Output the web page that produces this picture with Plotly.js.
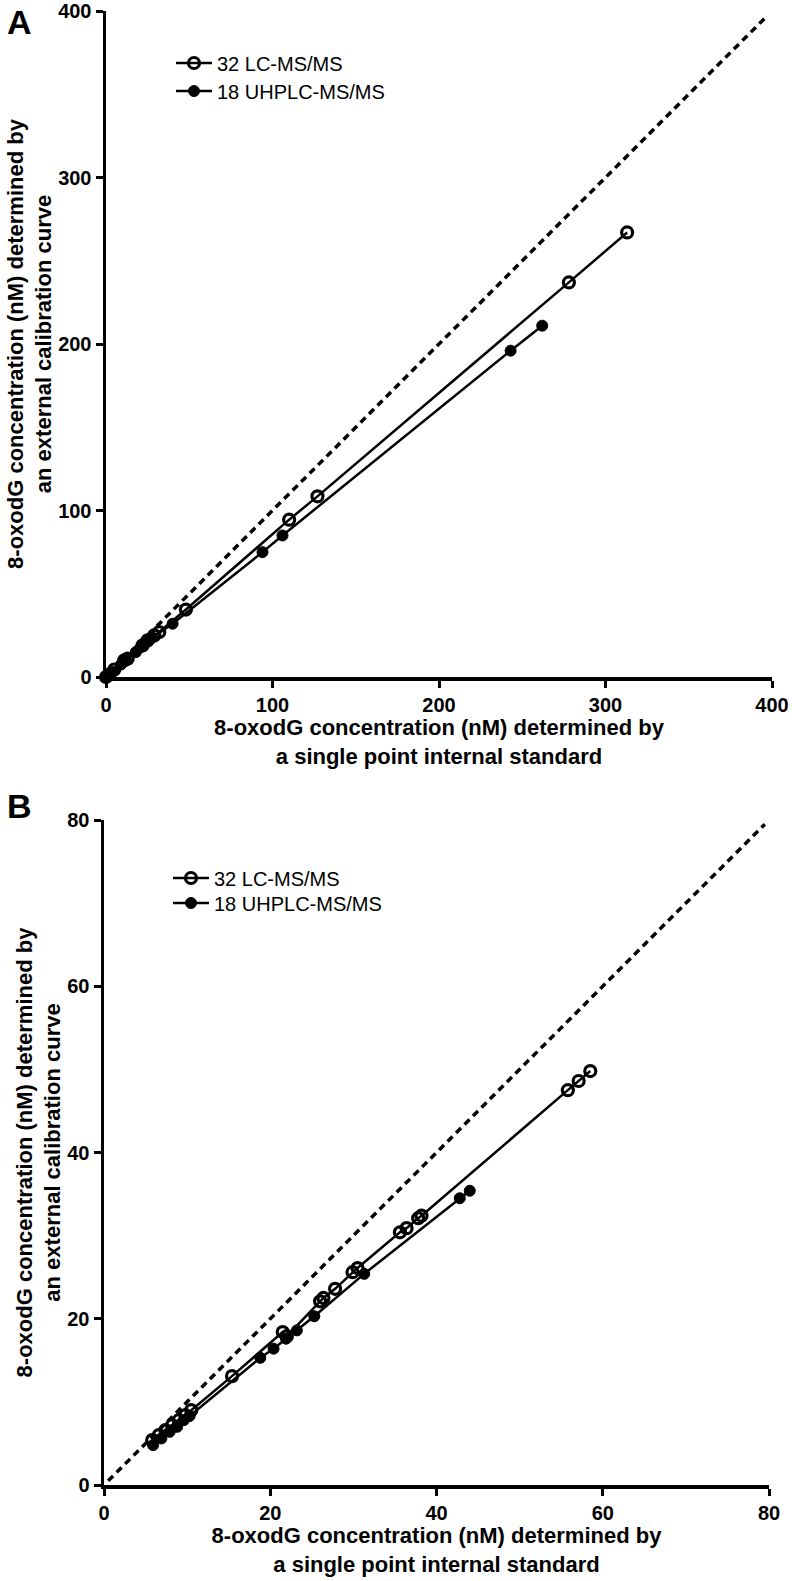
<!DOCTYPE html>
<html>
<head>
<meta charset="utf-8">
<script src="https://cdn.plot.ly/plotly-3.0.1.min.js"></script>
<style>html,body{margin:0;padding:0;background:#fff}</style>
</head>
<body>
<div id="chart" style="width:792px;height:1581px"></div>
<script>
// ---------- Data ----------
var seriesNames = ["32 LC-MS/MS", "18 UHPLC-MS/MS"];
var xTitle = "8-oxodG concentration (nM) determined by<br>a single point internal standard";
var yTitle = "8-oxodG concentration (nM) determined by<br>an external calibration curve";

// Panel A
var lcAx = [0, 2, 5, 11, 13, 22, 25, 29, 32, 48, 110, 127, 278, 313];
var lcAy = [0, 1.5, 4.5, 10, 11, 19, 22, 25, 27, 40.5, 94.5, 108.5, 237, 267];
var uhAx = [0, 1, 4, 9, 12, 18, 21, 24, 27, 40, 94, 106, 243, 262];
var uhAy = [0, 0.5, 3, 7.5, 10, 15, 18, 21, 23, 32, 75, 85, 196, 211];
var identA = [0, 397];
var ticksA = [0, 100, 200, 300, 400];

// Panel B
var lcBx = [5.8, 6.6, 7.4, 8.2, 9.0, 9.8, 10.5, 15.4, 21.5, 22.0, 26.0, 26.4, 27.8, 29.9, 30.5, 35.6, 36.4, 37.8, 38.2, 55.8, 57.1, 58.5];
var lcBy = [5.4, 6.0, 6.6, 7.2, 7.8, 8.4, 9.0, 13.1, 18.4, 17.9, 22.1, 22.5, 23.6, 25.6, 26.1, 30.4, 30.9, 32.1, 32.4, 47.5, 48.6, 49.8];
var uhBx = [5.9, 6.9, 7.9, 8.8, 9.6, 10.3, 18.8, 20.4, 21.9, 23.2, 25.3, 31.3, 42.8, 44.0];
var uhBy = [4.8, 5.6, 6.4, 7.0, 7.8, 8.3, 15.3, 16.4, 17.6, 18.6, 20.3, 25.4, 34.5, 35.4];
var identB = [0.5, 79.5];
var ticksB = [0, 20, 40, 60, 80];

// ---------- Build ----------
var W = 792, H = 1581;
var boldFont = "Liberation Sans, Arial, sans-serif";
var legFont = {family: "Liberation Sans, Arial, sans-serif", size: 20, color: "#000"};

function openTrace(x, y, xa, ya, leg) {
  return {x: x, y: y, xaxis: xa, yaxis: ya, type: "scatter", mode: "lines+markers",
    name: seriesNames[0], legend: leg, showlegend: true, cliponaxis: false,
    line: {color: "#000", width: 2.5},
    marker: {symbol: "circle-open", size: 11, color: "#000", line: {width: 3.2, color: "#000"}}};
}
function filledTrace(x, y, xa, ya, leg) {
  return {x: x, y: y, xaxis: xa, yaxis: ya, type: "scatter", mode: "lines+markers",
    name: seriesNames[1], legend: leg, showlegend: true, cliponaxis: false,
    line: {color: "#000", width: 2.5},
    marker: {symbol: "circle", size: 11, color: "#000", line: {width: 1, color: "#000"}}};
}
function identTrace(v, xa, ya) {
  return {x: v, y: v, xaxis: xa, yaxis: ya, type: "scatter", mode: "lines", showlegend: false,
    cliponaxis: false, line: {color: "#000", width: 3.5, dash: "7px,5px"}, hoverinfo: "skip"};
}

var data = [
  identTrace(identA, "x", "y"),
  openTrace(lcAx, lcAy, "x", "y", "legend"),
  filledTrace(uhAx, uhAy, "x", "y", "legend2"),
  identTrace(identB, "x2", "y2"),
  openTrace(lcBx, lcBy, "x2", "y2", "legend3"),
  filledTrace(uhBx, uhBy, "x2", "y2", "legend4")
];

function axis(dom, range, tv, anchor, title, standoff) {
  return {domain: dom, range: range, anchor: anchor, tickvals: tv, ticktext: tv.map(String),
    showline: true, linewidth: 3.5, linecolor: "#000", mirror: false,
    ticks: "outside", ticklen: 7, tickwidth: 3, tickcolor: "#000",
    showgrid: false, zeroline: false, fixedrange: true, ticklabeloverflow: "allow",
    tickfont: {family: boldFont, size: 20, color: "#000", weight: "bold"},
    title: {text: title, standoff: standoff, font: {family: boldFont, size: 22, color: "#000", weight: "bold"}}};
}
function leg(xpx, ypx) {
  return {x: xpx / W, y: 1 - ypx / H, xanchor: "left", yanchor: "middle", bgcolor: "rgba(0,0,0,0)",
    itemwidth: 36, font: legFont, borderwidth: 0};
}

var layout = {
  width: W, height: H,
  margin: {l: 0, r: 0, t: 0, b: 0, pad: 0},
  paper_bgcolor: "#fff", plot_bgcolor: "rgba(0,0,0,0)",
  showlegend: true,
  xaxis: axis([106 / W, 772 / W], [0, 400], ticksA, "y", xTitle, 6),
  yaxis: axis([(H - 677) / H, (H - 11) / H], [0, 400], ticksA, "x", yTitle, 1),
  xaxis2: axis([104 / W, 769 / W], [0, 80], ticksB, "y2", xTitle, 6),
  yaxis2: axis([(H - 1485) / H, (H - 820) / H], [0, 80], ticksB, "x2", yTitle, 1),
  legend: leg(171, 63),
  legend2: leg(171, 91),
  legend3: leg(168, 878),
  legend4: leg(168, 903),
  annotations: [
    {text: "A", xref: "paper", yref: "paper", x: 19 / W, y: 1 - 22 / H, xanchor: "center", yanchor: "middle",
      showarrow: false, font: {family: boldFont, size: 34, color: "#000", weight: "bold"}},
    {text: "B", xref: "paper", yref: "paper", x: 19 / W, y: 1 - 806 / H, xanchor: "center", yanchor: "middle",
      showarrow: false, font: {family: boldFont, size: 34, color: "#000", weight: "bold"}}
  ]
};

Plotly.newPlot("chart", data, layout, {displayModeBar: false, staticPlot: true});
</script>
</body>
</html>
